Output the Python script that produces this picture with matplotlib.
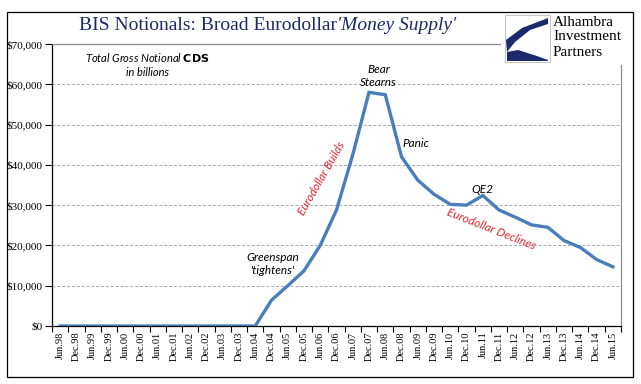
import numpy as np
import matplotlib.pyplot as plt
from matplotlib.patches import Rectangle, Polygon

# Datos: CDS nocional bruto total (miles de millones USD), semestral
labels = ['Jun.98', 'Dec.98', 'Jun.99', 'Dec.99', 'Jun.00', 'Dec.00', 'Jun.01', 'Dec.01',
          'Jun.02', 'Dec.02', 'Jun.03', 'Dec.03', 'Jun.04', 'Dec.04', 'Jun.05', 'Dec.05',
          'Jun.06', 'Dec.06', 'Jun.07', 'Dec.07', 'Jun.08', 'Dec.08', 'Jun.09', 'Dec.09',
          'Jun.10', 'Dec.10', 'Jun.11', 'Dec.11', 'Jun.12', 'Dec.12', 'Jun.13', 'Dec.13',
          'Jun.14', 'Dec.14', 'Jun.15']
cds = [0, 0, 0, 0, 0, 0, 0, 0,
       0, 0, 0, 0, 0, 6400, 10000, 13700,
       20000, 28800, 42500, 58000, 57400, 42000, 36200, 32700,
       30200, 30000, 32400, 28800, 27000, 25100, 24500, 21200,
       19500, 16500, 14700]
y_ticks = [0, 10000, 20000, 30000, 40000, 50000, 60000, 70000]

serif = 'Liberation Serif'
note_font = 'Lato'
red = '#e0262e'
navy = '#1c2a6b'

fig = plt.figure(figsize=(6.41, 3.84), dpi=100)
ax = fig.add_axes([52/641, 1-326/384, 569/641, 282/384])

x = np.arange(len(labels))
ax.plot(x, cds, color='#4a7dbb', lw=2.4, solid_joinstyle='miter', zorder=3)

ax.set_xlim(-0.5, len(labels) - 0.5)
ax.set_ylim(0, 70000)
ax.set_yticks(y_ticks)
ax.set_yticklabels(['${:,}'.format(v) for v in y_ticks], fontfamily=serif, fontsize=8)
for v in y_ticks[1:-1]:
    ax.axhline(v, color='#a6a6a6', lw=0.7, ls=(0, (3, 2)), zorder=1)

ax.set_xticks(x)
ax.set_xticklabels(labels, rotation=90, fontfamily=serif, fontsize=7.5)
ax.tick_params(axis='x', which='major', length=0, pad=4)
ax.set_xticks(np.arange(-0.5, len(labels), 1), minor=True)
ax.tick_params(axis='x', which='minor', length=4, width=0.8, direction='out')
ax.tick_params(axis='y', length=5, width=0.8, direction='out', pad=2)

for s in ['left', 'bottom']:
    ax.spines[s].set_color('black')
    ax.spines[s].set_linewidth(0.9)
for s in ['top', 'right']:
    ax.spines[s].set_color('#8c8c8c')
    ax.spines[s].set_linewidth(0.9)

# Anotaciones
ax.text(5.36, 66700, 'Total Gross Notional $\\mathbf{CDS}$', ha='center', va='center',
        fontsize=8, style='italic', family=note_font)
ax.text(5.36, 63000, 'in billions', ha='center', va='center',
        fontsize=8, style='italic', family=note_font)
ax.text(19.6, 62100, 'Bear\nStearns', ha='center', va='center', fontsize=8.5,
        style='italic', family=note_font, linespacing=1.15)
ax.text(21.9, 45200, 'Panic', ha='center', va='center', fontsize=8.5,
        style='italic', family=note_font)
ax.text(26.0, 34000, 'QE2', ha='center', va='center', fontsize=8.5,
        style='italic', family=note_font)
ax.text(13.1, 15400, "Greenspan\n'tightens'", ha='center', va='center', fontsize=8.5,
        style='italic', family=note_font, linespacing=1.15)
ax.text(16.1, 36700, 'Eurodollar Builds', ha='center', va='center', fontsize=8.5,
        style='italic', family=note_font, color=red, rotation=60, rotation_mode='anchor')
ax.text(26.5, 24100, 'Eurodollar Declines', ha='center', va='center', fontsize=8.5,
        style='italic', family=note_font, color=red, rotation=-21.6, rotation_mode='anchor')

# Titulo
fig.text(337/641, 1-25/384, 'BIS Notionals: Broad Eurodollar', ha='right', va='center',
         fontsize=14, family=serif, color=navy)
fig.text(337/641, 1-25/384, "'Money Supply'", ha='left', va='center',
         fontsize=14, family=serif, color=navy, style='italic')

# Logo
fig.add_artist(Rectangle((501/641, 1-65/384), 131/641, 51/384, transform=fig.transFigure,
                         facecolor='white', edgecolor='none', zorder=5))
fig.add_artist(Rectangle((505/641, 1-62/384), 45/641, 47/384, transform=fig.transFigure,
                         facecolor='white', edgecolor='#c8c8c8', lw=0.8, zorder=6))
pts_up = [(548, 18), (548, 24), (530, 30), (515, 42), (507, 52), (506, 40), (522, 28)]
pts_lo = [(507, 52), (518, 50), (534, 55), (548, 60), (548, 61), (507, 61)]
for pts in (pts_up, pts_lo):
    fig.add_artist(Polygon([(px/641, 1-py/384) for px, py in pts], closed=True,
                           transform=fig.transFigure, facecolor=navy, edgecolor='none', zorder=7))
for txt, py in [('Alhambra', 22), ('Investment', 37), ('Partners', 52)]:
    fig.text(553/641, 1-py/384, txt, ha='left', va='center', fontsize=11,
             family=serif, color='black', zorder=7)

# Marco exterior
fig.add_artist(Rectangle((7/641, 1-377/384), 626/641, 365/384, transform=fig.transFigure,
                         facecolor='none', edgecolor='black', lw=0.9, zorder=8))

fig.savefig('out.png', dpi=100)
